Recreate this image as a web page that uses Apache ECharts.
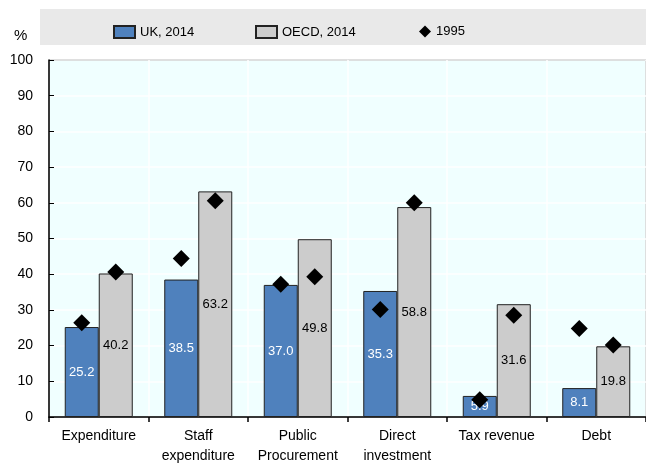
<!DOCTYPE html>
<html>
<head>
<meta charset="utf-8">
<script src="https://cdn.jsdelivr.net/npm/echarts@6/dist/echarts.min.js"></script>
<style>
  html, body { margin: 0; padding: 0; background: #fff; }
  #chart { width: 646px; height: 466px; }
</style>
</head>
<body>
<div id="chart"></div>
<script>
// Categories and values
const categories = ['Expenditure', 'Staff\nexpenditure', 'Public\nProcurement', 'Direct\ninvestment', 'Tax revenue', 'Debt'];
const uk2014 = [25.2, 38.5, 37.0, 35.3, 5.9, 8.1];
const oecd2014 = [40.2, 63.2, 49.8, 58.8, 31.6, 19.8];
const uk1995 = [26.4, 44.4, 37.2, 30.1, 4.8, 24.8];
const oecd1995 = [40.6, 60.6, 39.3, 60.0, 28.5, 20.2];
const yTicks = [0, 10, 20, 30, 40, 50, 60, 70, 80, 90, 100];

const FONT = "'Liberation Sans', Arial, sans-serif";
const BAR_W = 34;

const chart = echarts.init(document.getElementById('chart'), null, { renderer: 'canvas' });

const legendText = { fontFamily: FONT, fontSize: 13, color: '#000' };

chart.setOption({
  animation: false,
  backgroundColor: '#fff',
  graphic: [
    { type: 'rect', z: -10, shape: { x: 40, y: 9, width: 606, height: 36 }, style: { fill: '#E9E9E9' } },
    { type: 'text', left: 14, top: 28, style: { text: '%', font: '15px ' + FONT, fill: '#000' } }
  ],
  legend: [
    { left: 108, top: 20, itemWidth: 21, itemHeight: 12, textStyle: legendText, data: [{ name: 'UK, 2014', icon: 'rect' }] },
    { left: 250, top: 20, itemWidth: 21, itemHeight: 12, textStyle: legendText, data: [{ name: 'OECD, 2014', icon: 'rect' }] },
    { left: 414, top: 20, itemWidth: 12, itemHeight: 12, textStyle: legendText, data: [{ name: '1995', icon: 'diamond' }] }
  ],
  grid: {
    left: 49, top: 60, width: 608, height: 360,
    show: true, backgroundColor: '#F0FFFF', borderColor: '#000', borderWidth: 1
  },
  xAxis: {
    type: 'category',
    data: categories,
    axisLine: { lineStyle: { color: '#000', width: 1.5 } },
    axisTick: { show: true, length: 5, lineStyle: { color: '#000', width: 1.5 } },
    axisLabel: { fontFamily: FONT, fontSize: 14, color: '#000', margin: 9, lineHeight: 20, interval: 0 },
    splitLine: { show: true, lineStyle: { color: '#fff', width: 1.5 } }
  },
  yAxis: {
    type: 'value',
    min: 0, max: 100, interval: 10,
    axisLine: { show: true, lineStyle: { color: '#000', width: 1.5 } },
    axisTick: { show: true, inside: true, length: 5, lineStyle: { color: '#000' } },
    axisLabel: {
      fontFamily: FONT, fontSize: 14, color: '#000', margin: 16,
      formatter: v => (yTicks.indexOf(v) >= 0 ? String(v) : '')
    },
    splitLine: { show: true, lineStyle: { color: '#fff', width: 1.5 } }
  },
  series: [
    {
      name: 'UK, 2014', type: 'bar', data: uk2014, barWidth: BAR_W, barGap: '0%',
      itemStyle: { color: '#4F81BD', borderColor: '#222', borderWidth: 1 },
      label: { show: true, position: 'inside', formatter: p => p.value.toFixed(1), fontFamily: FONT, fontSize: 13, color: '#fff' }
    },
    {
      name: 'OECD, 2014', type: 'bar', data: oecd2014, barWidth: BAR_W, barGap: '0%',
      itemStyle: { color: '#CCCCCC', borderColor: '#222', borderWidth: 1 },
      label: { show: true, position: 'inside', formatter: p => p.value.toFixed(1), fontFamily: FONT, fontSize: 13, color: '#000' }
    },
    {
      name: '1995', type: 'scatter', data: uk1995, symbol: 'diamond', symbolSize: 17,
      symbolOffset: [-BAR_W / 2, 0], itemStyle: { color: '#000', opacity: 1 }, z: 5
    },
    {
      name: '1995', type: 'scatter', data: oecd1995, symbol: 'diamond', symbolSize: 17,
      symbolOffset: [BAR_W / 2, 0], itemStyle: { color: '#000', opacity: 1 }, z: 5
    }
  ]
});
</script>
</body>
</html>
